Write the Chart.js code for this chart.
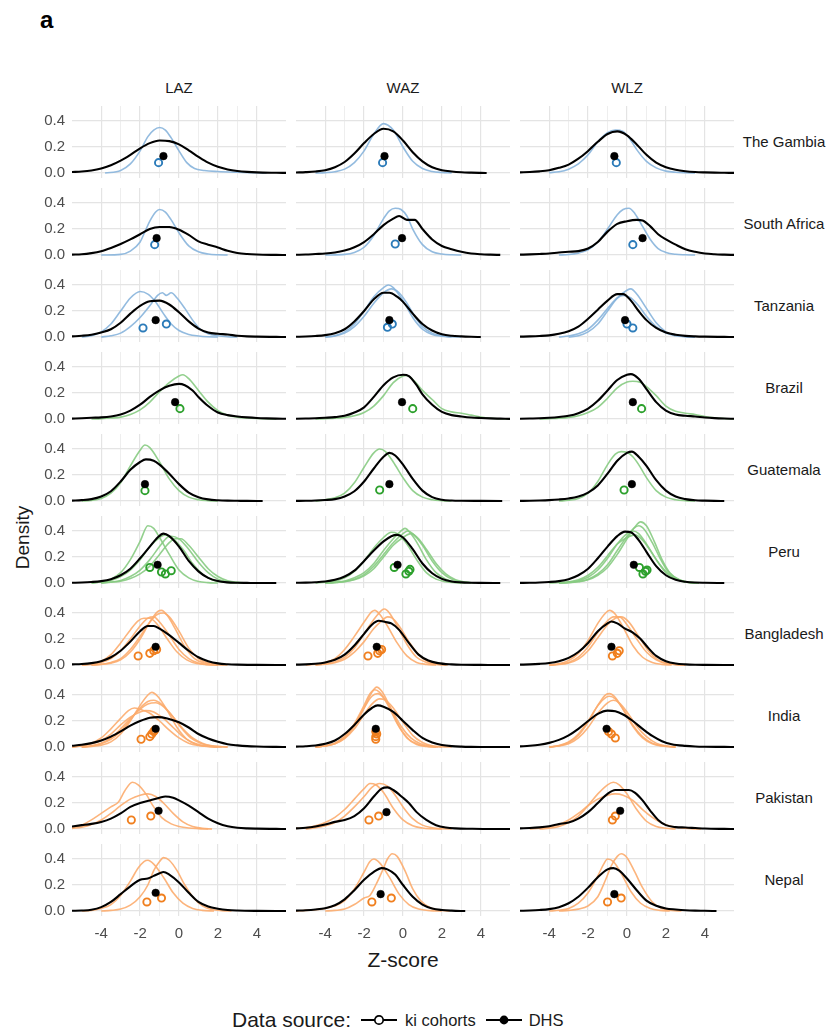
<!DOCTYPE html>
<html><head><meta charset="utf-8">
<script src="https://cdn.jsdelivr.net/npm/chart.js@4.4.0/dist/chart.umd.min.js"></script>
<style>
body{margin:0;background:#fff;width:840px;height:1036px;position:relative;overflow:hidden;font-family:"Liberation Sans",Arial,sans-serif}
.t{position:absolute;white-space:nowrap;color:#1a1a1a;line-height:1}
canvas{position:absolute}
</style></head><body>
<div class="t" style="left:40px;top:8px;font-size:24px;font-weight:bold;color:#000">a</div>
<div id="root"></div>
<script>
// ---------- categories ----------
const COUNTRIES = ['The Gambia','South Africa','Tanzania','Brazil','Guatemala','Peru','Bangladesh','India','Pakistan','Nepal'];
const INDICES = ['LAZ','WAZ','WLZ'];
const REGION = ['africa','africa','africa','latam','latam','latam','asia','asia','asia','asia'];
const X_TICKS = [-4,-3,-2,-1,0,1,2,3,4];
const Y_TICKS = [0,0.2,0.4];
const LEGEND_LABELS = ['ki cohorts','DHS'];

// ---------- density curves [z, density] ----------
// The Gambia
const gam_laz_ki = [[-3.8,0],[-3,0.02],[-2.5,0.07],[-2,0.17],[-1.6,0.28],[-1.3,0.33],[-1,0.35],[-0.7,0.33],[-0.4,0.27],[0,0.17],[0.4,0.08],[0.8,0.035],[1.3,0.02],[2,0.012],[3,0.006],[4,0.002],[4.5,0]];
const gam_laz_dhs = [[-5.5,0.008],[-5,0.012],[-4.5,0.02],[-4,0.035],[-3.5,0.06],[-3,0.095],[-2.5,0.14],[-2,0.19],[-1.5,0.23],[-1,0.25],[-0.5,0.245],[0,0.22],[0.5,0.175],[1,0.125],[1.5,0.08],[2,0.048],[2.5,0.028],[3,0.016],[3.5,0.009],[4,0.005],[5,0.002],[5.5,0.001]];
const gam_waz_ki = [[-4.5,0],[-4,0.003],[-3.5,0.01],[-3,0.03],[-2.5,0.08],[-2,0.17],[-1.5,0.3],[-1,0.38],[-0.5,0.33],[0,0.2],[0.5,0.09],[1,0.035],[1.5,0.012],[2,0.004],[2.5,0.001]];
const gam_waz_dhs = [[-5.5,0.004],[-5,0.007],[-4.5,0.012],[-4,0.022],[-3.5,0.045],[-3,0.085],[-2.5,0.15],[-2,0.23],[-1.5,0.3],[-1,0.34],[-0.5,0.32],[0,0.25],[0.5,0.16],[1,0.09],[1.5,0.045],[2,0.022],[2.5,0.012],[3,0.006],[3.5,0.003],[4,0.001],[4.3,0]];
const gam_wlz_ki = [[-4,0.003],[-3.5,0.01],[-3,0.03],[-2.5,0.07],[-2,0.14],[-1.5,0.24],[-1,0.31],[-0.6,0.33],[-0.2,0.32],[0.2,0.25],[0.5,0.18],[1,0.09],[1.5,0.04],[2,0.015],[2.5,0.006],[3,0.002],[3.5,0]];
const gam_wlz_dhs = [[-5.5,0.005],[-5,0.008],[-4.5,0.013],[-4,0.022],[-3.5,0.04],[-3,0.065],[-2.5,0.11],[-2,0.17],[-1.5,0.24],[-1,0.3],[-0.5,0.32],[0,0.29],[0.5,0.22],[1,0.14],[1.5,0.08],[2,0.045],[2.5,0.025],[3,0.014],[3.5,0.008],[4,0.005],[4.5,0.003],[5,0.002],[5.5,0.001]];
// South Africa
const sa_laz_ki = [[-4,0],[-3,0.005],[-2.5,0.03],[-2,0.1],[-1.75,0.18],[-1.5,0.26],[-1.2,0.33],[-1,0.35],[-0.7,0.33],[-0.4,0.27],[0,0.17],[0.5,0.07],[1,0.025],[1.5,0.008],[2,0.002],[2.5,0]];
const sa_laz_dhs = [[-5.5,0.003],[-5,0.006],[-4.5,0.015],[-4,0.03],[-3.5,0.055],[-3,0.085],[-2.5,0.12],[-2,0.16],[-1.5,0.2],[-1,0.215],[-0.5,0.215],[0,0.195],[0.5,0.155],[1,0.105],[1.5,0.08],[2,0.058],[2.5,0.033],[3,0.016],[3.5,0.008],[4,0.004],[5,0.001],[5.5,0]];
const sa_waz_ki = [[-4,0],[-3,0.005],[-2.5,0.02],[-2,0.06],[-1.5,0.15],[-1,0.28],[-0.7,0.34],[-0.4,0.36],[-0.1,0.35],[0.2,0.3],[0.5,0.2],[1,0.08],[1.5,0.025],[2,0.008],[2.5,0.002],[3,0]];
const sa_waz_dhs = [[-5.5,0.002],[-5,0.004],[-4.5,0.008],[-4,0.012],[-3.5,0.02],[-3,0.035],[-2.5,0.06],[-2,0.1],[-1.5,0.16],[-1,0.23],[-0.5,0.28],[-0.2,0.3],[0.2,0.27],[0.6,0.27],[1,0.2],[1.5,0.12],[2,0.07],[2.5,0.045],[3,0.025],[3.5,0.012],[4,0.006],[4.5,0.003],[5,0.001]];
const sa_wlz_ki = [[-3.5,0],[-3,0.004],[-2.5,0.015],[-2,0.04],[-1.5,0.1],[-1,0.2],[-0.5,0.31],[-0.2,0.35],[0.1,0.36],[0.4,0.32],[0.8,0.22],[1.2,0.12],[1.6,0.05],[2,0.02],[2.5,0.006],[3,0.002],[3.5,0]];
const sa_wlz_dhs = [[-5.5,0.003],[-5,0.005],[-4.5,0.008],[-4,0.012],[-3.5,0.02],[-3,0.025],[-2.5,0.03],[-2,0.05],[-1.5,0.1],[-1,0.18],[-0.5,0.24],[0,0.26],[0.5,0.27],[0.8,0.265],[1.2,0.22],[1.6,0.16],[2,0.12],[2.5,0.08],[3,0.045],[3.5,0.025],[4,0.012],[4.5,0.006],[5,0.003],[5.5,0.001]];
// Tanzania
const tz_laz_ki1 = [[-5,0],[-4.5,0.01],[-4,0.04],[-3.5,0.1],[-3,0.2],[-2.5,0.3],[-2,0.35],[-1.6,0.33],[-1.2,0.27],[-0.8,0.18],[-0.4,0.1],[0,0.05],[0.5,0.02],[1,0.008],[1.5,0.002],[2,0]];
const tz_laz_ki2 = [[-4,0],[-3.5,0.01],[-3,0.03],[-2.5,0.08],[-2,0.15],[-1.5,0.24],[-1.1,0.32],[-0.85,0.34],[-0.65,0.32],[-0.4,0.34],[-0.1,0.3],[0.3,0.22],[0.7,0.13],[1.1,0.06],[1.5,0.025],[2,0.01],[2.5,0.003],[3,0]];
const tz_laz_dhs = [[-5.5,0.005],[-5,0.01],[-4.5,0.018],[-4,0.035],[-3.5,0.06],[-3,0.11],[-2.5,0.18],[-2,0.24],[-1.5,0.275],[-1,0.28],[-0.5,0.25],[0,0.19],[0.5,0.12],[1,0.065],[1.5,0.035],[2,0.025],[2.5,0.02],[3,0.01],[3.5,0.005],[4,0.003],[5,0.001],[5.5,0]];
const tz_waz_ki1 = [[-4,0],[-3.5,0.01],[-3,0.04],[-2.5,0.1],[-2,0.2],[-1.5,0.31],[-1,0.38],[-0.75,0.4],[-0.5,0.38],[0,0.28],[0.5,0.15],[1,0.06],[1.5,0.02],[2,0.006],[2.5,0]];
const tz_waz_ki2 = [[-4,0],[-3.5,0.008],[-3,0.03],[-2.5,0.08],[-2,0.16],[-1.5,0.26],[-1,0.34],[-0.6,0.37],[-0.2,0.34],[0.2,0.26],[0.6,0.16],[1,0.08],[1.5,0.03],[2,0.01],[2.5,0.003],[3,0]];
const tz_waz_dhs = [[-5.5,0.002],[-5,0.004],[-4.5,0.008],[-4,0.015],[-3.5,0.03],[-3,0.06],[-2.5,0.12],[-2,0.2],[-1.5,0.29],[-1,0.34],[-0.7,0.34],[-0.3,0.31],[0,0.27],[0.5,0.18],[1,0.1],[1.5,0.05],[2,0.022],[2.5,0.01],[3,0.005],[3.5,0.002],[4,0]];
const tz_wlz_ki1 = [[-3,0],[-2.5,0.01],[-2,0.04],[-1.5,0.1],[-1,0.2],[-0.5,0.3],[0,0.36],[0.2,0.37],[0.5,0.33],[1,0.22],[1.5,0.11],[2,0.04],[2.5,0.012],[3,0.003],[3.5,0]];
const tz_wlz_ki2 = [[-3.5,0],[-3,0.008],[-2.5,0.025],[-2,0.06],[-1.5,0.13],[-1,0.22],[-0.5,0.3],[-0.2,0.32],[0.2,0.3],[0.6,0.24],[1,0.16],[1.5,0.08],[2,0.03],[2.5,0.01],[3,0.003],[3.5,0]];
const tz_wlz_dhs = [[-5.5,0.003],[-5,0.005],[-4.5,0.008],[-4,0.013],[-3.5,0.025],[-3,0.045],[-2.5,0.08],[-2,0.14],[-1.5,0.21],[-1,0.28],[-0.5,0.33],[-0.2,0.33],[0.2,0.28],[0.6,0.2],[1,0.13],[1.5,0.07],[2,0.035],[2.5,0.018],[3,0.009],[3.5,0.005],[4,0.003],[5,0.001],[5.5,0]];
// Brazil
const br_laz_ki = [[-4.5,0],[-4,0.003],[-3.5,0.008],[-3,0.015],[-2.5,0.035],[-2,0.07],[-1.5,0.13],[-1,0.21],[-0.5,0.28],[0,0.33],[0.2,0.34],[0.5,0.31],[1,0.22],[1.5,0.13],[2,0.065],[2.5,0.03],[3,0.015],[3.5,0.008],[4,0.004],[4.5,0.002],[5,0]];
const br_laz_dhs = [[-5.5,0.003],[-5,0.006],[-4.5,0.01],[-4,0.013],[-3.5,0.02],[-3,0.035],[-2.5,0.065],[-2,0.11],[-1.5,0.17],[-1,0.22],[-0.5,0.255],[0,0.27],[0.3,0.26],[0.7,0.22],[1,0.17],[1.5,0.1],[2,0.05],[2.5,0.03],[3,0.02],[3.5,0.013],[4,0.008],[4.5,0.005],[5,0.003],[5.5,0.002]];
const br_waz_ki = [[-4.5,0],[-4,0.003],[-3.5,0.006],[-3,0.012],[-2.5,0.025],[-2,0.05],[-1.5,0.1],[-1,0.18],[-0.5,0.28],[0,0.33],[0.2,0.335],[0.6,0.29],[1,0.22],[1.5,0.15],[2,0.08],[2.5,0.055],[3,0.045],[3.5,0.03],[4,0.015],[4.5,0.006],[5,0.002],[5.5,0]];
const br_waz_dhs = [[-5.5,0.002],[-5,0.004],[-4.5,0.006],[-4,0.01],[-3.5,0.015],[-3,0.025],[-2.5,0.05],[-2,0.09],[-1.5,0.17],[-1,0.26],[-0.5,0.32],[0,0.34],[0.3,0.33],[0.7,0.26],[1,0.19],[1.5,0.11],[2,0.055],[2.5,0.03],[3,0.02],[3.5,0.012],[4,0.008],[4.5,0.005],[5,0.003],[5.5,0.001]];
const br_wlz_ki = [[-4.5,0],[-4,0.003],[-3.5,0.006],[-3,0.012],[-2.5,0.025],[-2,0.05],[-1.5,0.09],[-1,0.16],[-0.5,0.24],[0,0.285],[0.3,0.29],[0.7,0.28],[1,0.25],[1.5,0.18],[2,0.1],[2.5,0.06],[3,0.045],[3.5,0.035],[4,0.02],[4.5,0.01],[5,0.004],[5.5,0.001]];
const br_wlz_dhs = [[-5.5,0.002],[-5,0.004],[-4.5,0.006],[-4,0.01],[-3.5,0.016],[-3,0.025],[-2.5,0.045],[-2,0.08],[-1.5,0.14],[-1,0.22],[-0.5,0.3],[0,0.34],[0.2,0.345],[0.6,0.31],[1,0.23],[1.5,0.13],[2,0.065],[2.5,0.035],[3,0.025],[3.5,0.02],[4,0.012],[4.5,0.007],[5,0.004],[5.5,0.002]];
// Guatemala
const gt_laz_ki = [[-5,0],[-4.5,0.005],[-4,0.02],[-3.5,0.06],[-3,0.14],[-2.5,0.27],[-2,0.39],[-1.75,0.43],[-1.5,0.41],[-1,0.3],[-0.5,0.17],[0,0.08],[0.5,0.03],[1,0.01],[1.5,0.003],[2,0]];
const gt_laz_dhs = [[-5.5,0.003],[-5,0.007],[-4.5,0.015],[-4,0.035],[-3.5,0.075],[-3,0.15],[-2.5,0.24],[-2,0.3],[-1.7,0.32],[-1.3,0.31],[-1,0.28],[-0.5,0.21],[0,0.13],[0.5,0.065],[1,0.03],[1.5,0.013],[2,0.006],[2.5,0.003],[3,0.002],[3.5,0.001],[4.3,0]];
const gt_waz_ki = [[-4.5,0],[-4,0.01],[-3.5,0.025],[-3,0.06],[-2.5,0.14],[-2,0.26],[-1.5,0.37],[-1.2,0.4],[-0.9,0.38],[-0.5,0.3],[0,0.18],[0.5,0.08],[1,0.03],[1.5,0.01],[2,0.003],[2.5,0]];
const gt_waz_dhs = [[-5.5,0.001],[-5,0.002],[-4.5,0.004],[-4,0.008],[-3.5,0.015],[-3,0.035],[-2.5,0.075],[-2,0.15],[-1.5,0.25],[-1,0.34],[-0.7,0.37],[-0.4,0.35],[0,0.28],[0.5,0.17],[1,0.08],[1.5,0.03],[2,0.01],[2.5,0.004],[3,0.002],[4,0.001],[5.1,0]];
const gt_wlz_ki = [[-3.5,0],[-3,0.006],[-2.5,0.02],[-2,0.06],[-1.5,0.15],[-1,0.28],[-0.6,0.36],[-0.3,0.38],[0,0.375],[0.3,0.34],[0.6,0.28],[1,0.18],[1.5,0.08],[2,0.03],[2.5,0.01],[3,0.003],[3.5,0]];
const gt_wlz_dhs = [[-5.5,0.001],[-5,0.002],[-4.5,0.004],[-4,0.007],[-3.5,0.012],[-3,0.02],[-2.5,0.035],[-2,0.065],[-1.5,0.12],[-1,0.21],[-0.5,0.31],[0,0.37],[0.25,0.38],[0.6,0.34],[1,0.27],[1.5,0.16],[2,0.08],[2.5,0.035],[3,0.015],[3.5,0.006],[4,0.003],[4.5,0.001],[5,0]];
// Peru
const pe_laz_ki1 = [[-4.5,0],[-4,0.01],[-3.5,0.03],[-3,0.08],[-2.5,0.18],[-2,0.32],[-1.6,0.44],[-1.3,0.42],[-1,0.35],[-0.5,0.22],[0,0.1],[0.5,0.04],[1,0.012],[1.5,0.003],[2,0]];
const pe_laz_ki2 = [[-4.5,0],[-4,0.008],[-3.5,0.02],[-3,0.05],[-2.5,0.1],[-2,0.18],[-1.5,0.28],[-1,0.35],[-0.7,0.37],[-0.3,0.34],[0.2,0.26],[0.7,0.15],[1.2,0.07],[1.7,0.025],[2.2,0.008],[2.7,0.002],[3,0]];
const pe_laz_ki3 = [[-4,0],[-3.5,0.008],[-3,0.02],[-2.5,0.05],[-2,0.1],[-1.5,0.18],[-1,0.28],[-0.6,0.35],[-0.4,0.36],[0,0.34],[0.5,0.26],[1,0.16],[1.5,0.08],[2,0.03],[2.5,0.01],[3,0.003],[3.5,0]];
const pe_laz_ki4 = [[-4,0],[-3.5,0.006],[-3,0.015],[-2.5,0.035],[-2,0.07],[-1.5,0.13],[-1,0.22],[-0.5,0.31],[-0.2,0.34],[0.1,0.34],[0.5,0.29],[1,0.2],[1.5,0.11],[2,0.05],[2.5,0.018],[3,0.005],[3.5,0]];
const pe_laz_dhs = [[-5.5,0.002],[-5,0.004],[-4.5,0.008],[-4,0.015],[-3.5,0.03],[-3,0.06],[-2.5,0.11],[-2,0.19],[-1.5,0.28],[-1.1,0.35],[-0.8,0.38],[-0.5,0.36],[0,0.28],[0.5,0.17],[1,0.09],[1.5,0.04],[2,0.015],[2.5,0.005],[3,0.002],[3.5,0.001],[4,0],[5,0]];
const pe_waz_ki1 = [[-4.5,0],[-4,0.006],[-3.5,0.015],[-3,0.04],[-2.5,0.09],[-2,0.17],[-1.5,0.27],[-1,0.35],[-0.6,0.39],[-0.3,0.38],[0.2,0.3],[0.7,0.18],[1.2,0.08],[1.7,0.03],[2.2,0.01],[2.7,0.003],[3,0]];
const pe_waz_ki2 = [[-4,0],[-3.5,0.005],[-3,0.015],[-2.5,0.04],[-2,0.08],[-1.5,0.15],[-1,0.25],[-0.5,0.34],[-0.1,0.4],[0.1,0.42],[0.4,0.38],[0.8,0.29],[1.2,0.18],[1.7,0.08],[2.2,0.03],[2.7,0.008],[3.2,0]];
const pe_waz_ki3 = [[-4,0],[-3.5,0.004],[-3,0.012],[-2.5,0.03],[-2,0.065],[-1.5,0.13],[-1,0.22],[-0.5,0.31],[0,0.38],[0.25,0.4],[0.5,0.38],[1,0.29],[1.5,0.17],[2,0.08],[2.5,0.03],[3,0.01],[3.5,0]];
const pe_waz_ki4 = [[-4,0],[-3.5,0.004],[-3,0.01],[-2.5,0.025],[-2,0.055],[-1.5,0.11],[-1,0.2],[-0.5,0.29],[0,0.35],[0.4,0.38],[0.8,0.34],[1.2,0.26],[1.7,0.15],[2.2,0.07],[2.7,0.025],[3.2,0.008],[3.7,0]];
const pe_waz_dhs = [[-5.5,0.002],[-5,0.003],[-4.5,0.006],[-4,0.012],[-3.5,0.025],[-3,0.05],[-2.5,0.095],[-2,0.17],[-1.5,0.25],[-1,0.32],[-0.6,0.36],[-0.3,0.37],[0,0.35],[0.5,0.26],[1,0.15],[1.5,0.075],[2,0.032],[2.5,0.012],[3,0.005],[3.5,0.002],[4,0.001],[5,0]];
const pe_wlz_ki1 = [[-3.5,0],[-3,0.003],[-2.5,0.01],[-2,0.025],[-1.5,0.06],[-1,0.12],[-0.5,0.22],[0,0.34],[0.4,0.43],[0.7,0.47],[1,0.44],[1.4,0.32],[1.8,0.18],[2.2,0.08],[2.7,0.025],[3.2,0.006],[3.7,0]];
const pe_wlz_ki2 = [[-3.5,0],[-3,0.004],[-2.5,0.012],[-2,0.03],[-1.5,0.07],[-1,0.14],[-0.5,0.25],[0,0.36],[0.35,0.42],[0.6,0.44],[0.9,0.41],[1.3,0.31],[1.7,0.19],[2.1,0.09],[2.6,0.03],[3.1,0.008],[3.6,0]];
const pe_wlz_ki3 = [[-3.5,0],[-3,0.006],[-2.5,0.018],[-2,0.045],[-1.5,0.1],[-1,0.19],[-0.5,0.3],[0,0.38],[0.3,0.4],[0.6,0.38],[1,0.3],[1.5,0.18],[2,0.08],[2.5,0.03],[3,0.008],[3.5,0]];
const pe_wlz_ki4 = [[-4,0],[-3.5,0.004],[-3,0.01],[-2.5,0.025],[-2,0.06],[-1.5,0.12],[-1,0.21],[-0.5,0.3],[0,0.35],[0.4,0.37],[0.8,0.33],[1.2,0.25],[1.7,0.14],[2.2,0.06],[2.7,0.02],[3.2,0.005],[3.7,0]];
const pe_wlz_dhs = [[-5.5,0.001],[-5,0.002],[-4.5,0.004],[-4,0.008],[-3.5,0.015],[-3,0.03],[-2.5,0.06],[-2,0.11],[-1.5,0.19],[-1,0.28],[-0.5,0.36],[-0.1,0.395],[0.2,0.39],[0.6,0.33],[1,0.24],[1.5,0.13],[2,0.06],[2.5,0.025],[3,0.01],[3.5,0.004],[4,0.002],[5,0]];
// Bangladesh
const bd_laz_ki1 = [[-4.5,0],[-4,0.005],[-3.5,0.015],[-3,0.04],[-2.5,0.1],[-2,0.2],[-1.5,0.33],[-1.1,0.41],[-0.9,0.42],[-0.6,0.38],[-0.2,0.28],[0.3,0.14],[0.8,0.05],[1.3,0.015],[1.8,0.004],[2.3,0]];
const bd_laz_ki2 = [[-5,0],[-4.5,0.01],[-4,0.03],[-3.5,0.08],[-3,0.17],[-2.5,0.27],[-2.1,0.34],[-1.8,0.36],[-1.5,0.36],[-1.1,0.31],[-0.6,0.2],[-0.1,0.1],[0.4,0.04],[0.9,0.012],[1.4,0.003],[2,0]];
const bd_laz_ki3 = [[-5,0],[-4.5,0.005],[-4,0.02],[-3.5,0.05],[-3,0.11],[-2.5,0.2],[-2,0.3],[-1.6,0.36],[-1.3,0.37],[-1,0.33],[-0.5,0.23],[0,0.12],[0.5,0.05],[1,0.015],[1.5,0.004],[2,0]];
const bd_laz_ki4 = [[-4.5,0],[-4,0.006],[-3.5,0.02],[-3,0.05],[-2.5,0.12],[-2,0.22],[-1.5,0.33],[-1.1,0.39],[-0.8,0.4],[-0.5,0.37],[0,0.26],[0.5,0.13],[1,0.05],[1.5,0.015],[2,0.004],[2.5,0]];
const bd_laz_dhs = [[-5.5,0.005],[-5,0.008],[-4.5,0.015],[-4,0.03],[-3.5,0.06],[-3,0.11],[-2.5,0.18],[-2,0.26],[-1.6,0.3],[-1.3,0.3],[-1,0.28],[-0.5,0.23],[0,0.17],[0.5,0.11],[1,0.06],[1.5,0.03],[2,0.013],[2.5,0.006],[3,0.003],[4,0.001],[5,0],[5.5,0]];
const bd_waz_ki1 = [[-5,0],[-4.5,0.006],[-4,0.02],[-3.5,0.05],[-3,0.12],[-2.5,0.22],[-2,0.33],[-1.6,0.41],[-1.45,0.42],[-1.2,0.39],[-0.8,0.3],[-0.3,0.17],[0.2,0.07],[0.7,0.02],[1.2,0.005],[1.7,0]];
const bd_waz_ki2 = [[-4.5,0],[-4,0.008],[-3.5,0.025],[-3,0.06],[-2.5,0.13],[-2,0.24],[-1.5,0.35],[-1.1,0.42],[-0.95,0.43],[-0.7,0.4],[-0.3,0.3],[0.2,0.16],[0.7,0.06],[1.2,0.02],[1.7,0.005],[2.2,0]];
const bd_waz_ki3 = [[-4.5,0],[-4,0.006],[-3.5,0.018],[-3,0.045],[-2.5,0.1],[-2,0.18],[-1.5,0.28],[-1.1,0.34],[-0.8,0.37],[-0.55,0.36],[-0.2,0.3],[0.3,0.18],[0.8,0.08],[1.3,0.025],[1.8,0.007],[2.3,0]];
const bd_waz_dhs = [[-5.5,0.003],[-5,0.005],[-4.5,0.01],[-4,0.02],[-3.5,0.04],[-3,0.08],[-2.5,0.15],[-2,0.24],[-1.6,0.31],[-1.25,0.34],[-0.9,0.33],[-0.6,0.32],[-0.2,0.27],[0.3,0.17],[0.8,0.08],[1.3,0.035],[1.8,0.015],[2.5,0.005],[3,0.002],[4,0.001],[5,0],[5.5,0]];
const bd_wlz_ki1 = [[-4,0],[-3.5,0.01],[-3,0.035],[-2.5,0.09],[-2,0.19],[-1.5,0.32],[-1.1,0.4],[-0.9,0.42],[-0.6,0.39],[-0.2,0.29],[0.3,0.15],[0.8,0.06],[1.3,0.02],[1.8,0.005],[2.3,0]];
const bd_wlz_ki2 = [[-4,0],[-3.5,0.006],[-3,0.02],[-2.5,0.06],[-2,0.14],[-1.5,0.25],[-1,0.34],[-0.7,0.37],[-0.4,0.37],[0,0.31],[0.5,0.2],[1,0.1],[1.5,0.04],[2,0.012],[2.5,0.003],[3,0]];
const bd_wlz_ki3 = [[-4,0],[-3.5,0.005],[-3,0.015],[-2.5,0.045],[-2,0.11],[-1.5,0.21],[-1,0.31],[-0.6,0.36],[-0.3,0.37],[0.1,0.33],[0.6,0.22],[1.1,0.11],[1.6,0.04],[2.1,0.012],[2.6,0.003],[3,0]];
const bd_wlz_dhs = [[-5.5,0.003],[-5,0.005],[-4.5,0.009],[-4,0.016],[-3.5,0.03],[-3,0.055],[-2.5,0.1],[-2,0.17],[-1.5,0.26],[-1,0.32],[-0.8,0.335],[-0.5,0.32],[-0.1,0.28],[0.3,0.25],[0.7,0.2],[1.1,0.13],[1.5,0.07],[2,0.03],[2.5,0.012],[3,0.005],[3.5,0.002],[4,0.001],[5.5,0]];
// India
const in_laz_ki1 = [[-5,0],[-4.5,0.005],[-4,0.015],[-3.5,0.04],[-3,0.1],[-2.5,0.2],[-2,0.32],[-1.6,0.4],[-1.4,0.42],[-1.1,0.39],[-0.6,0.28],[-0.1,0.15],[0.4,0.06],[0.9,0.02],[1.4,0.006],[2,0]];
const in_laz_ki2 = [[-5,0],[-4.5,0.008],[-4,0.025],[-3.5,0.06],[-3,0.12],[-2.5,0.21],[-2,0.3],[-1.6,0.35],[-1.3,0.36],[-0.9,0.33],[-0.4,0.25],[0.1,0.15],[0.6,0.07],[1.1,0.03],[1.6,0.01],[2.2,0.002],[2.5,0]];
const in_laz_ki3 = [[-5,0],[-4.5,0.01],[-4,0.03],[-3.5,0.07],[-3,0.14],[-2.5,0.22],[-2,0.29],[-1.6,0.33],[-1.2,0.34],[-0.8,0.31],[-0.3,0.23],[0.2,0.14],[0.7,0.07],[1.2,0.03],[1.7,0.01],[2.5,0]];
const in_laz_ki4 = [[-5.5,0],[-5,0.01],[-4.5,0.03],[-4,0.07],[-3.5,0.14],[-3,0.22],[-2.6,0.28],[-2.3,0.3],[-2,0.29],[-1.5,0.26],[-1,0.2],[-0.5,0.13],[0,0.07],[0.5,0.03],[1,0.012],[1.5,0.004],[2,0]];
const in_laz_ki5 = [[-5.5,0],[-5,0.01],[-4.5,0.025],[-4,0.05],[-3.5,0.1],[-3,0.17],[-2.5,0.23],[-2,0.27],[-1.7,0.28],[-1.3,0.27],[-0.8,0.22],[-0.3,0.15],[0.2,0.08],[0.7,0.035],[1.2,0.012],[1.7,0.004],[2.2,0]];
const in_laz_dhs = [[-5.5,0.01],[-5,0.018],[-4.5,0.03],[-4,0.05],[-3.5,0.08],[-3,0.12],[-2.5,0.165],[-2,0.2],[-1.5,0.225],[-1.1,0.23],[-0.6,0.22],[0,0.19],[0.5,0.15],[1,0.1],[1.5,0.065],[2,0.04],[2.5,0.022],[3,0.013],[3.5,0.007],[4,0.004],[5,0.001],[5.5,0]];
const in_waz_ki1 = [[-4.5,0],[-4,0.008],[-3.5,0.025],[-3,0.07],[-2.5,0.16],[-2,0.3],[-1.6,0.42],[-1.35,0.46],[-1.1,0.43],[-0.7,0.32],[-0.2,0.16],[0.3,0.06],[0.8,0.02],[1.3,0.005],[1.8,0]];
const in_waz_ki2 = [[-4.5,0],[-4,0.01],[-3.5,0.03],[-3,0.08],[-2.5,0.18],[-2,0.32],[-1.7,0.41],[-1.45,0.44],[-1.2,0.42],[-0.8,0.33],[-0.3,0.18],[0.2,0.07],[0.7,0.02],[1.2,0.005],[1.7,0]];
const in_waz_ki3 = [[-4.5,0],[-4,0.01],[-3.5,0.03],[-3,0.08],[-2.5,0.17],[-2,0.3],[-1.6,0.39],[-1.3,0.41],[-1,0.38],[-0.6,0.29],[-0.1,0.16],[0.4,0.07],[0.9,0.025],[1.4,0.008],[2,0]];
const in_waz_ki4 = [[-4.5,0],[-4,0.008],[-3.5,0.025],[-3,0.065],[-2.5,0.14],[-2,0.25],[-1.6,0.33],[-1.2,0.37],[-0.9,0.36],[-0.5,0.3],[0,0.19],[0.5,0.09],[1,0.035],[1.5,0.01],[2,0.003],[2.5,0]];
const in_waz_dhs = [[-5.5,0.003],[-5,0.006],[-4.5,0.012],[-4,0.025],[-3.5,0.05],[-3,0.1],[-2.5,0.17],[-2,0.25],[-1.6,0.3],[-1.3,0.32],[-1,0.31],[-0.5,0.27],[0,0.2],[0.5,0.13],[1,0.07],[1.5,0.035],[2,0.016],[2.5,0.007],[3,0.003],[3.5,0.001],[4,0],[5.5,0]];
const in_wlz_ki1 = [[-4,0],[-3.5,0.01],[-3,0.035],[-2.5,0.09],[-2,0.19],[-1.5,0.32],[-1.1,0.4],[-0.9,0.41],[-0.6,0.38],[-0.2,0.29],[0.3,0.16],[0.8,0.07],[1.3,0.025],[1.8,0.008],[2.5,0]];
const in_wlz_ki2 = [[-4,0],[-3.5,0.012],[-3,0.04],[-2.5,0.1],[-2,0.2],[-1.5,0.32],[-1.1,0.38],[-0.9,0.39],[-0.6,0.37],[-0.2,0.29],[0.3,0.17],[0.8,0.08],[1.3,0.03],[1.8,0.01],[2.5,0]];
const in_wlz_ki3 = [[-4,0],[-3.5,0.008],[-3,0.025],[-2.5,0.07],[-2,0.15],[-1.5,0.26],[-1,0.34],[-0.7,0.36],[-0.4,0.34],[0,0.27],[0.5,0.16],[1,0.08],[1.5,0.03],[2,0.01],[2.5,0]];
const in_wlz_dhs = [[-5.5,0.005],[-5,0.01],[-4.5,0.018],[-4,0.032],[-3.5,0.055],[-3,0.09],[-2.5,0.14],[-2,0.2],[-1.5,0.255],[-1,0.28],[-0.6,0.275],[-0.2,0.25],[0.3,0.2],[0.8,0.14],[1.3,0.085],[1.8,0.045],[2.3,0.022],[3,0.009],[3.5,0.004],[4,0.002],[5,0.001],[5.5,0]];
// Pakistan
const pk_laz_ki1 = [[-5.5,0.01],[-5,0.03],[-4.5,0.07],[-4,0.12],[-3.5,0.17],[-3.1,0.21],[-2.8,0.29],[-2.4,0.36],[-2.1,0.34],[-1.7,0.27],[-1.3,0.17],[-0.9,0.09],[-0.4,0.04],[0,0.02],[0.5,0.008],[1,0.003],[1.5,0]];
const pk_laz_ki2 = [[-5.5,0.005],[-5,0.015],[-4.5,0.035],[-4,0.07],[-3.5,0.12],[-3,0.18],[-2.5,0.23],[-2,0.26],[-1.6,0.27],[-1.2,0.25],[-0.8,0.2],[-0.3,0.12],[0.2,0.055],[0.7,0.02],[1.2,0.006],[1.7,0]];
const pk_laz_dhs = [[-5.5,0.02],[-5,0.03],[-4.5,0.04],[-4,0.055],[-3.5,0.08],[-3,0.12],[-2.5,0.17],[-2,0.2],[-1.5,0.22],[-1,0.24],[-0.7,0.25],[-0.3,0.24],[0,0.22],[0.5,0.18],[1,0.13],[1.5,0.08],[2,0.045],[2.5,0.022],[3,0.01],[3.5,0.005],[4,0.003],[5,0.001],[5.5,0]];
const pk_waz_ki1 = [[-5.5,0.005],[-5,0.01],[-4.5,0.025],[-4,0.05],[-3.5,0.09],[-3,0.15],[-2.5,0.23],[-2,0.31],[-1.7,0.35],[-1.4,0.34],[-1,0.28],[-0.5,0.16],[0,0.07],[0.5,0.025],[1,0.008],[1.5,0.002],[2,0]];
const pk_waz_ki2 = [[-5,0],[-4.5,0.01],[-4,0.025],[-3.5,0.05],[-3,0.1],[-2.5,0.17],[-2,0.25],[-1.6,0.32],[-1.2,0.35],[-0.8,0.33],[-0.4,0.26],[0,0.17],[0.5,0.08],[1,0.03],[1.5,0.01],[2,0.002],[2.5,0]];
const pk_waz_dhs = [[-5.5,0.005],[-5,0.01],[-4.5,0.02],[-4,0.035],[-3.5,0.055],[-3,0.07],[-2.5,0.1],[-2,0.16],[-1.5,0.25],[-1.1,0.31],[-0.8,0.32],[-0.5,0.3],[0,0.24],[0.3,0.2],[0.7,0.13],[1.2,0.07],[1.7,0.03],[2.2,0.012],[2.7,0.005],[3.5,0.002],[4.5,0],[5.5,0]];
const pk_wlz_ki1 = [[-4.5,0],[-4,0.006],[-3.5,0.02],[-3,0.05],[-2.5,0.1],[-2,0.18],[-1.5,0.27],[-1,0.34],[-0.7,0.36],[-0.4,0.34],[0,0.27],[0.5,0.15],[1,0.06],[1.5,0.02],[2,0.006],[2.5,0]];
const pk_wlz_ki2 = [[-5,0],[-4.5,0.006],[-4,0.015],[-3.5,0.035],[-3,0.07],[-2.5,0.12],[-2,0.18],[-1.5,0.23],[-1,0.26],[-0.6,0.27],[-0.2,0.26],[0.3,0.22],[0.8,0.15],[1.3,0.09],[1.8,0.045],[2.3,0.02],[2.8,0.008],[3.3,0.003],[3.8,0]];
const pk_wlz_dhs = [[-5.5,0.005],[-5,0.008],[-4.5,0.013],[-4,0.022],[-3.5,0.038],[-3,0.05],[-2.5,0.08],[-2,0.13],[-1.5,0.2],[-1,0.27],[-0.6,0.3],[-0.2,0.3],[0.1,0.3],[0.4,0.28],[0.8,0.22],[1.2,0.14],[1.6,0.07],[2,0.03],[2.5,0.015],[3,0.012],[3.5,0.008],[4,0.004],[5,0.001],[5.5,0]];
// Nepal
const np_laz_ki1 = [[-5,0],[-4.5,0.005],[-4,0.02],[-3.5,0.05],[-3,0.12],[-2.5,0.23],[-2.1,0.33],[-1.8,0.38],[-1.6,0.39],[-1.3,0.36],[-0.8,0.26],[-0.3,0.14],[0.2,0.06],[0.7,0.02],[1.2,0.005],[1.8,0]];
const np_laz_ki2 = [[-4,0],[-3.5,0.005],[-3,0.015],[-2.5,0.045],[-2,0.11],[-1.6,0.2],[-1.3,0.31],[-1,0.38],[-0.8,0.41],[-0.5,0.39],[-0.1,0.31],[0.3,0.2],[0.7,0.11],[1.2,0.04],[1.7,0.012],[2.2,0.003],[2.7,0]];
const np_laz_dhs = [[-5.5,0.002],[-5,0.004],[-4.5,0.01],[-4,0.03],[-3.5,0.07],[-3,0.13],[-2.5,0.19],[-2,0.24],[-1.6,0.25],[-1.3,0.27],[-1,0.29],[-0.8,0.3],[-0.5,0.28],[0,0.22],[0.5,0.14],[1,0.07],[1.5,0.035],[2,0.018],[2.5,0.008],[3,0.004],[4,0.001],[5,0],[5.5,0]];
const np_waz_ki1 = [[-5.5,0],[-5,0.005],[-4.5,0.01],[-4,0.02],[-3.5,0.04],[-3,0.08],[-2.5,0.17],[-2,0.3],[-1.7,0.38],[-1.5,0.4],[-1.2,0.37],[-0.7,0.26],[-0.2,0.13],[0.3,0.05],[0.8,0.015],[1.4,0.003],[2,0]];
const np_waz_ki2 = [[-4,0],[-3.5,0.005],[-3,0.015],[-2.5,0.05],[-2,0.1],[-1.7,0.12],[-1.4,0.2],[-1,0.33],[-0.8,0.4],[-0.55,0.44],[-0.3,0.42],[0.1,0.31],[0.5,0.17],[0.9,0.08],[1.4,0.025],[1.9,0.006],[2.4,0]];
const np_waz_dhs = [[-5.5,0.003],[-5,0.006],[-4.5,0.012],[-4,0.022],[-3.5,0.045],[-3,0.09],[-2.5,0.16],[-2,0.24],[-1.5,0.3],[-1.1,0.33],[-0.8,0.32],[-0.4,0.28],[0,0.2],[0.5,0.11],[1,0.05],[1.5,0.02],[2,0.008],[2.5,0.003],[3.2,0]];
const np_wlz_ki1 = [[-4,0],[-3.5,0.006],[-3,0.02],[-2.5,0.06],[-2,0.14],[-1.5,0.27],[-1.2,0.36],[-1,0.4],[-0.7,0.38],[-0.3,0.29],[0.2,0.15],[0.7,0.06],[1.2,0.02],[1.7,0.005],[2.2,0]];
const np_wlz_ki2 = [[-3.5,0],[-3,0.005],[-2.5,0.015],[-2,0.04],[-1.5,0.11],[-1.1,0.24],[-0.8,0.35],[-0.5,0.42],[-0.3,0.44],[0,0.41],[0.4,0.3],[0.8,0.18],[1.3,0.07],[1.8,0.02],[2.3,0.005],[2.8,0]];
const np_wlz_dhs = [[-5.5,0.002],[-5,0.004],[-4.5,0.008],[-4,0.015],[-3.5,0.03],[-3,0.06],[-2.5,0.11],[-2,0.18],[-1.5,0.26],[-1,0.32],[-0.7,0.33],[-0.4,0.31],[0,0.25],[0.5,0.16],[1,0.08],[1.5,0.04],[2,0.02],[2.5,0.012],[3,0.006],[3.5,0.003],[4,0.002],[4.6,0]];

// ---------- mean markers [z, y-position] per index (LAZ, WAZ, WLZ) ----------
const DHS_MEAN = [
  [[-0.8,0.13],[-0.95,0.13],[-0.65,0.13]],
  [[-1.15,0.13],[-0.05,0.13],[0.8,0.13]],
  [[-1.2,0.13],[-0.7,0.13],[-0.1,0.13]],
  [[-0.2,0.13],[-0.05,0.13],[0.3,0.13]],
  [[-1.75,0.13],[-0.7,0.13],[0.25,0.13]],
  [[-1.1,0.14],[-0.28,0.14],[0.35,0.14]],
  [[-1.2,0.14],[-1.35,0.14],[-0.8,0.14]],
  [[-1.2,0.14],[-1.4,0.14],[-1.05,0.14]],
  [[-1.05,0.14],[-0.85,0.13],[-0.35,0.14]],
  [[-1.2,0.14],[-1.15,0.13],[-0.65,0.13]]
];
const KI_MEAN = [
  [[[-1.05,0.08]],[[-1.05,0.08]],[[-0.55,0.08]]],
  [[[-1.25,0.08]],[[-0.4,0.085]],[[0.3,0.08]]],
  [[[-1.85,0.07],[-0.65,0.1]],[[-0.8,0.075],[-0.55,0.1]],[[0.0,0.1],[0.3,0.07]]],
  [[[0.05,0.08]],[[0.5,0.08]],[[0.75,0.08]]],
  [[[-1.75,0.08]],[[-1.2,0.085]],[[-0.15,0.085]]],
  [[[-1.5,0.12],[-0.9,0.085],[-0.7,0.07],[-0.4,0.095]],[[-0.45,0.12],[0.15,0.07],[0.3,0.09],[0.36,0.105]],[[0.64,0.12],[0.82,0.07],[0.95,0.09],[1.03,0.1]]],
  [[[-2.1,0.07],[-1.5,0.09],[-1.3,0.11],[-1.15,0.12]],[[-1.8,0.07],[-1.3,0.09],[-1.2,0.11],[-1.1,0.12]],[[-0.75,0.07],[-0.5,0.09],[-0.4,0.11]]],
  [[[-1.95,0.06],[-1.5,0.08],[-1.4,0.1],[-1.3,0.12],[-1.25,0.13]],[[-1.4,0.06],[-1.4,0.08],[-1.35,0.1],[-1.4,0.12]],[[-0.95,0.12],[-0.8,0.1],[-0.6,0.07]]],
  [[[-2.45,0.07],[-1.45,0.1]],[[-1.75,0.07],[-1.25,0.1]],[[-0.75,0.07],[-0.6,0.1]]],
  [[[-1.65,0.07],[-0.9,0.1]],[[-1.6,0.07],[-0.6,0.1]],[[-1.0,0.07],[-0.3,0.1]]]
];

// ---------- grouping of curves per facet ----------
const KI_CURVES = [
  [[gam_laz_ki],[gam_waz_ki],[gam_wlz_ki]],
  [[sa_laz_ki],[sa_waz_ki],[sa_wlz_ki]],
  [[tz_laz_ki1,tz_laz_ki2],[tz_waz_ki1,tz_waz_ki2],[tz_wlz_ki1,tz_wlz_ki2]],
  [[br_laz_ki],[br_waz_ki],[br_wlz_ki]],
  [[gt_laz_ki],[gt_waz_ki],[gt_wlz_ki]],
  [[pe_laz_ki1,pe_laz_ki2,pe_laz_ki3,pe_laz_ki4],[pe_waz_ki1,pe_waz_ki2,pe_waz_ki3,pe_waz_ki4],[pe_wlz_ki1,pe_wlz_ki2,pe_wlz_ki3,pe_wlz_ki4]],
  [[bd_laz_ki1,bd_laz_ki2,bd_laz_ki3,bd_laz_ki4],[bd_waz_ki1,bd_waz_ki2,bd_waz_ki3],[bd_wlz_ki1,bd_wlz_ki2,bd_wlz_ki3]],
  [[in_laz_ki1,in_laz_ki2,in_laz_ki3,in_laz_ki4,in_laz_ki5],[in_waz_ki1,in_waz_ki2,in_waz_ki3,in_waz_ki4],[in_wlz_ki1,in_wlz_ki2,in_wlz_ki3]],
  [[pk_laz_ki1,pk_laz_ki2],[pk_waz_ki1,pk_waz_ki2],[pk_wlz_ki1,pk_wlz_ki2]],
  [[np_laz_ki1,np_laz_ki2],[np_waz_ki1,np_waz_ki2],[np_wlz_ki1,np_wlz_ki2]]
];
const DHS_CURVES = [
  [gam_laz_dhs,gam_waz_dhs,gam_wlz_dhs],
  [sa_laz_dhs,sa_waz_dhs,sa_wlz_dhs],
  [tz_laz_dhs,tz_waz_dhs,tz_wlz_dhs],
  [br_laz_dhs,br_waz_dhs,br_wlz_dhs],
  [gt_laz_dhs,gt_waz_dhs,gt_wlz_dhs],
  [pe_laz_dhs,pe_waz_dhs,pe_wlz_dhs],
  [bd_laz_dhs,bd_waz_dhs,bd_wlz_dhs],
  [in_laz_dhs,in_waz_dhs,in_wlz_dhs],
  [pk_laz_dhs,pk_waz_dhs,pk_wlz_dhs],
  [np_laz_dhs,np_waz_dhs,np_wlz_dhs]
];

// ---------- styling ----------
const LINE_COL = {africa:'rgba(135,180,220,0.9)', latam:'rgba(135,203,130,0.9)', asia:'rgba(252,172,110,0.9)'};
const PT_COL = {africa:'#2b7bb9', latam:'#2ca02c', asia:'#f07f1e'};
const FONT = '"Liberation Sans", Arial, sans-serif';
const PANEL_L = 72, PANEL_T = 106, PANEL_W = 214, PANEL_H = 72, COL_STEP = 224, ROW_STEP = 82;
const YAX_W = 40, XAX_H = 26;

const root = document.getElementById('root');
function addText(txt, css){ const d=document.createElement('div'); d.className='t'; d.textContent=txt; d.style.cssText+=css; root.appendChild(d); return d; }

INDICES.forEach((n,c)=>{ addText(n, `left:${PANEL_L+COL_STEP*c}px;width:${PANEL_W}px;text-align:center;top:80px;font-size:15px;`); });
COUNTRIES.forEach((n,r)=>{ addText(n, `left:738px;width:92px;text-align:center;top:${PANEL_T+ROW_STEP*r+28}px;font-size:15px;`); });
addText('Density', `left:-23px;top:${528}px;width:90px;text-align:center;font-size:19px;transform:rotate(-90deg);`);
addText('Z-score', `left:${PANEL_L+COL_STEP}px;width:${PANEL_W}px;text-align:center;top:949px;font-size:21px;`);

const toXY = a => a.map(p=>({x:p[0], y:p[1]}));
const noPad = s => { s.paddingTop = 0; s.paddingBottom = 0; s.paddingLeft = 0; s.paddingRight = 0; };

for (let r=0;r<COUNTRIES.length;r++){
  for (let c=0;c<INDICES.length;c++){
    const left = c===0, bottom = r===COUNTRIES.length-1;
    const cv = document.createElement('canvas');
    const w = PANEL_W + (left?YAX_W:0), h = PANEL_H + (bottom?XAX_H:0);
    cv.width = w; cv.height = h;
    cv.style.left = (PANEL_L + COL_STEP*c - (left?YAX_W:0)) + 'px';
    cv.style.top = (PANEL_T + ROW_STEP*r) + 'px';
    cv.style.width = w+'px'; cv.style.height = h+'px';
    root.appendChild(cv);
    const reg = REGION[r];
    const ds = [];
    ds.push({data: toXY([DHS_MEAN[r][c]]), showLine:false, pointRadius:3.8, pointHoverRadius:3.8, pointBackgroundColor:'#000', pointBorderColor:'#000', pointBorderWidth:0.5, order:0});
    ds.push({data: toXY(KI_MEAN[r][c]), showLine:false, pointRadius:3.6, pointHoverRadius:3.6, pointBackgroundColor:'rgba(0,0,0,0)', pointBorderColor:PT_COL[reg], pointBorderWidth:1.9, order:1});
    ds.push({data: toXY(DHS_CURVES[r][c]), borderColor:'#000', borderWidth:2.1, pointRadius:0, cubicInterpolationMode:'monotone', fill:false, order:2});
    KI_CURVES[r][c].forEach(k=>ds.push({data: toXY(k), borderColor:LINE_COL[reg], borderWidth:1.6, pointRadius:0, cubicInterpolationMode:'monotone', fill:false, order:3}));
    new Chart(cv, {
      type:'line',
      data:{datasets:ds},
      options:{
        responsive:false, animation:false, devicePixelRatio:1,
        layout:{padding:0, autoPadding:false},
        plugins:{legend:{display:false}, tooltip:{enabled:false}},
        events:[],
        scales:{
          x:{type:'linear', min:-5.5, max:5.5,
             afterBuildTicks:s=>{ s.ticks = X_TICKS.map(v=>({value:v})); },
             afterFit:s=>{ s.height = bottom?XAX_H:0; noPad(s); },
             border:{display:false},
             grid:{drawTicks:false, color:ctx=> (ctx.tick && ctx.tick.value%2===0)?'#e4e4e4':'#ececec', lineWidth:ctx=>(ctx.tick && ctx.tick.value%2===0)?1.2:0.9},
             ticks:{display:bottom, autoSkip:false, maxRotation:0, padding:9, color:'#4d4d4d', font:{family:FONT,size:15}, callback:v=> (v%2===0)? String(v):''}
          },
          y:{type:'linear', min:-0.038, max:0.515,
             afterBuildTicks:s=>{ s.ticks = Y_TICKS.map(v=>({value:v})); },
             afterFit:s=>{ s.width = left?YAX_W:0; noPad(s); },
             border:{display:false},
             grid:{drawTicks:false, color:'#e4e4e4', lineWidth:1.2},
             ticks:{display:left, padding:7, color:'#4d4d4d', font:{family:FONT,size:15}, callback:v=>v.toFixed(1)}
          }
        }
      }
    });
  }
}

// legend
const lg = document.createElement('div');
lg.style.cssText = 'position:absolute;left:232px;top:1008px;display:flex;align-items:center;white-space:nowrap;';
lg.innerHTML = '<span style="font-size:21px;color:#1a1a1a;margin-right:9px">Data source:</span>'+
 '<svg width="38" height="18"><line x1="1" y1="9" x2="37" y2="9" stroke="#000" stroke-width="1.8"/><circle cx="19" cy="9" r="4.2" fill="#fff" stroke="#000" stroke-width="1.7"/></svg>'+
 '<span style="font-size:16.5px;color:#1a1a1a;margin:0 9px 0 7px">'+LEGEND_LABELS[0]+'</span>'+
 '<svg width="38" height="18"><line x1="1" y1="9" x2="37" y2="9" stroke="#000" stroke-width="1.8"/><circle cx="19" cy="9" r="4.4" fill="#000"/></svg>'+
 '<span style="font-size:16.5px;color:#1a1a1a;margin-left:6px">'+LEGEND_LABELS[1]+'</span>';
root.appendChild(lg);
</script>
</body></html>
